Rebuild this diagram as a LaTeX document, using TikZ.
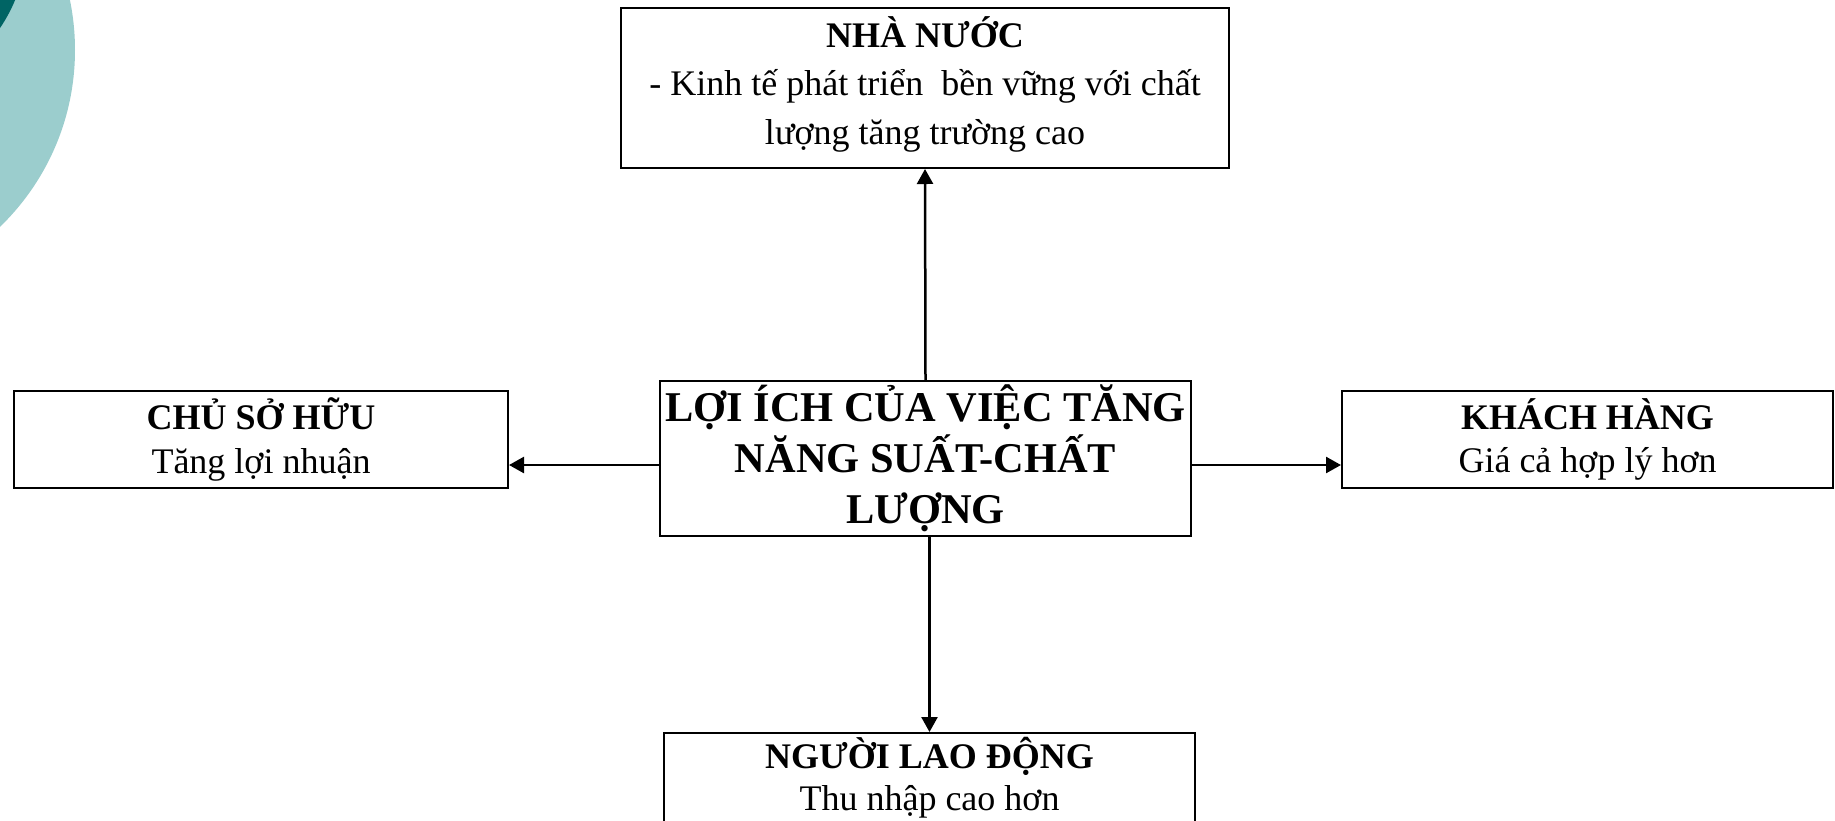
\documentclass[tikz,border=0pt]{standalone}
\usepackage{fontspec}
\setmainfont{Liberation Serif}
\usetikzlibrary{arrows.meta}
\definecolor{teallight}{RGB}{155,205,205}
\definecolor{tealdark}{RGB}{0,100,100}
\begin{document}
\begin{tikzpicture}[x=0.5pt,y=-0.5pt,
 box/.style={draw,line width=1pt,inner sep=0pt,align=center,font=\fontsize{18}{21.7}\selectfont},
 arr/.style={line width=1.25pt,-{Triangle[length=7.5pt,width=8pt]}}]
\useasboundingbox (0,0) rectangle (1835,820);
\clip (0,0) rectangle (1835,820);
\fill[teallight] (-171,50) circle[radius=123pt];
\fill[tealdark] (-130,-60) circle[radius=78.5pt];
\node[box,minimum width=304pt,minimum height=80pt,text depth=7.5pt,font=\fontsize{18}{24.3}\selectfont] (n) at (925,88) {\textbf{NHÀ NƯỚC}\\ - Kinh tế phát triển\ \ bền vững với chất\\ lượng tăng trường cao};
\node[box,minimum width=265.5pt,minimum height=77.5pt,font=\fontsize{21.2}{25.5}\selectfont\bfseries] (c) at (925.5,458.5) {LỢI ÍCH CỦA VIỆC TĂNG\\NĂNG SUẤT-CHẤT\\LƯỢNG};
\node[box,minimum width=247pt,minimum height=48.5pt] (l) at (261,439.5) {\textbf{CHỦ SỞ HỮU}\\Tăng lợi nhuận};
\node[box,minimum width=245.5pt,minimum height=48.5pt] (r) at (1587.5,439.5) {\textbf{KHÁCH HÀNG}\\Giá cả hợp lý hơn};
\node[box,minimum width=265.5pt,minimum height=48.5pt,text depth=7.5pt,font=\fontsize{18}{21}\selectfont] (b) at (929.5,781.5) {\textbf{NGƯỜI LAO ĐỘNG}\\Thu nhập cao hơn};
\draw[arr] (c.north) -- (n.south);
\draw[arr] (b.north |- c.south) -- (b.north);
\coordinate (ls) at ([yshift=-3.25pt]c.west);
\draw[arr] (ls) -- (ls -| l.east);
\coordinate (rs) at ([yshift=-3.25pt]c.east);
\draw[arr] (rs) -- (rs -| r.west);
\end{tikzpicture}
\end{document}
